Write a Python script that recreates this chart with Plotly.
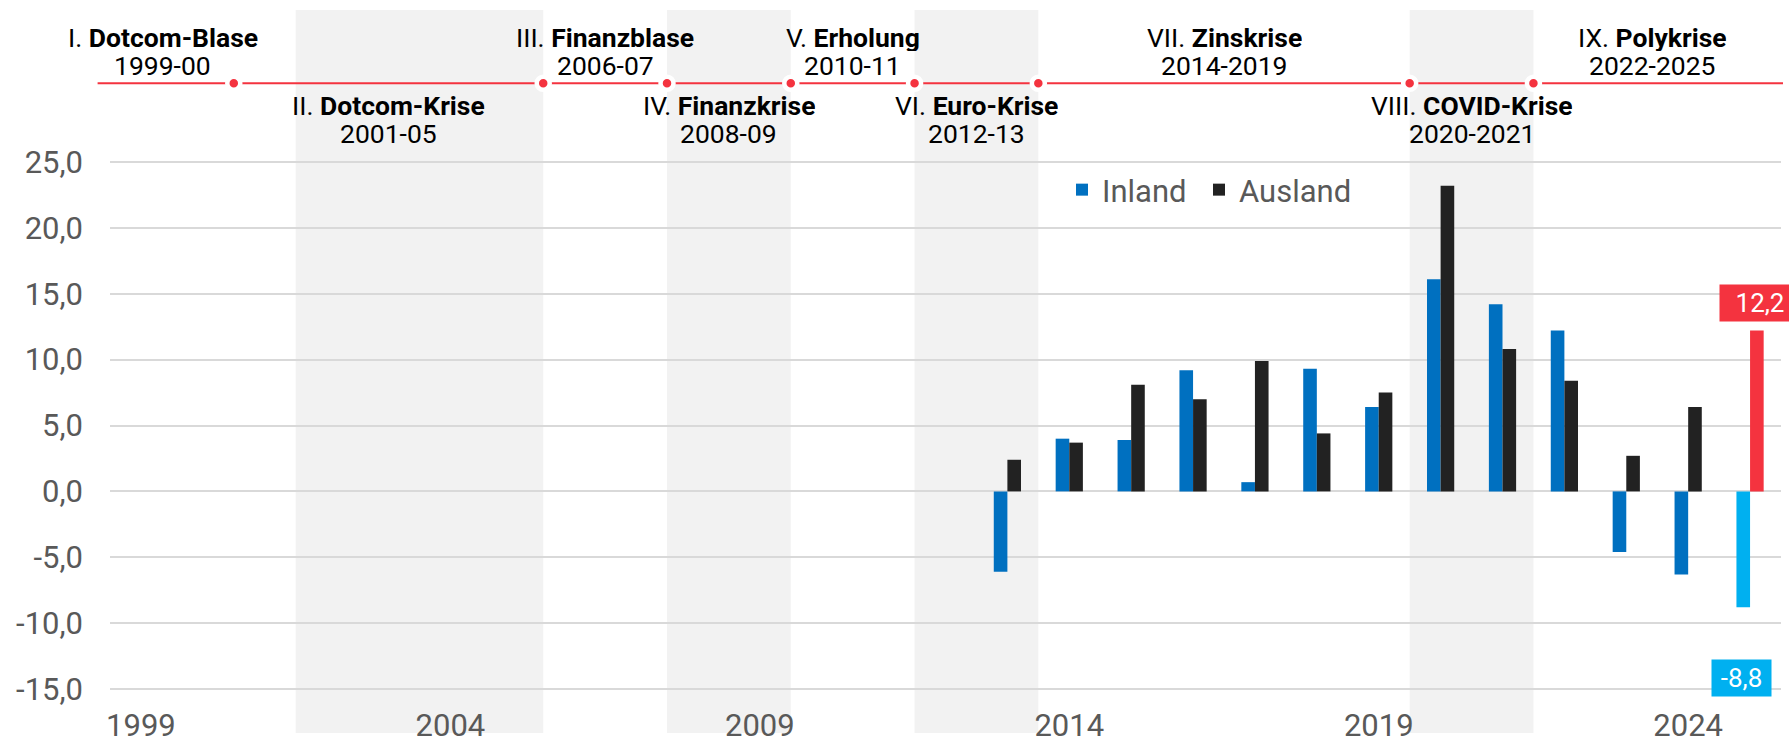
import plotly.graph_objects as go

# ---------------- data ----------------
years = list(range(2013, 2026))
inland = [-6.1, 4.0, 3.9, 9.2, 0.7, 9.3, 6.4, 16.1, 14.2, 12.2, -4.6, -6.3, -8.8]
ausland = [2.4, 3.7, 8.1, 7.0, 9.9, 4.4, 7.5, 23.2, 10.8, 8.4, 2.7, 6.4, 12.2]

period_roman = ["I.", "II.", "III.", "IV.", "V.", "VI.", "VII.", "VIII.", "IX."]
period_names = ["Dotcom-Blase", "Dotcom-Krise", "Finanzblase", "Finanzkrise", "Erholung",
                "Euro-Krise", "Zinskrise", "COVID-Krise", "Polykrise"]
period_labels = ["1999-00", "2001-05", "2006-07", "2008-09", "2010-11",
                 "2012-13", "2014-2019", "2020-2021", "2022-2025"]
period_start = [1999, 2001, 2006, 2008, 2010, 2012, 2014, 2020, 2022]
period_end = [2000, 2005, 2007, 2009, 2011, 2013, 2019, 2021, 2025]

shaded_start = [2002, 2008, 2012, 2020]
shaded_end = [2005, 2009, 2013, 2021]

x_ticks = [1999, 2004, 2009, 2014, 2019, 2024]
y_ticks = [-15, -10, -5, 0, 5, 10, 15, 20, 25]

# ---------------- styles ----------------
BLUE = "#0070C0"
LIGHT_BLUE = "#00B0F0"
DARK = "#222222"
RED = "#F4333F"
GRID = "#D9D9D9"
BAND = "#F2F2F2"
TXT = "#595959"

W, H = 1789, 743
ML, MR, MT, MB = 110, 8, 158, 50
PW, PH = W - ML - MR, H - MT - MB


def py(p):  # pixel row -> paper y
    return (H - MB - p) / PH


def px(p):  # pixel column -> paper x
    return (p - ML) / PW


fig = go.Figure()
last = years[-1]
fig.add_trace(go.Bar(
    x=years, y=inland, name="Inland", legend="legend",
    marker=dict(color=[LIGHT_BLUE if yr == last else BLUE for yr in years], line_width=0),
))
fig.add_trace(go.Bar(
    x=years, y=ausland, name="Ausland", legend="legend2",
    marker=dict(color=[RED if yr == last else DARK for yr in years], line_width=0),
))

# shaded crisis bands
for s, e in zip(shaded_start, shaded_end):
    fig.add_shape(type="rect", xref="x", yref="paper", x0=s - 0.5, x1=e + 0.5,
                  y0=py(733), y1=py(10), fillcolor=BAND, line_width=0, layer="below")

# timeline
ty = py(83.3)
fig.add_shape(type="line", xref="paper", yref="paper", x0=px(97.6), x1=px(1783),
              y0=ty, y1=ty, line=dict(color=RED, width=2), layer="above")
for e in period_end[:-1]:
    fig.add_shape(type="circle", xref="x", yref="paper", xsizemode="pixel", ysizemode="pixel",
                  xanchor=e + 0.5, yanchor=ty, x0=-6.5, x1=6.5, y0=-6.5, y1=6.5,
                  fillcolor=RED, line=dict(color="white", width=4.5), layer="above")

# period labels
for i in range(len(period_names)):
    above = i % 2 == 0
    xm = (period_start[i] + period_end[i]) / 2
    y1, y2 = (py(37.3), py(65.8)) if above else (py(106), py(133.3))
    xs = -9 if i == 0 else (-5 if i == len(period_names) - 1 else 0)
    fig.add_annotation(x=xm, y=y1, xref="x", yref="paper", xshift=xs,
                       text=f"{period_roman[i]} <b>{period_names[i]}</b>", showarrow=False,
                       height=27, borderpad=0,
                       font=dict(size=26.5, color="#000000", family="Roboto"), yanchor="middle")
    fig.add_annotation(x=xm, y=y2, xref="x", yref="paper", xshift=xs,
                       text=period_labels[i], showarrow=False,
                       height=27, borderpad=0,
                       font=dict(size=26.5, color="#000000", family="Roboto"), yanchor="middle")


def fmt(v):
    return f"{v:.1f}".replace(".", ",")


# value labels for the latest year
fig.add_annotation(x=last, y=ausland[-1], xref="x", yref="y", xshift=10, yshift=9,
                   yanchor="bottom", text=fmt(ausland[-1]), showarrow=False,
                   bgcolor=RED, width=78, height=34, borderpad=1,
                   font=dict(size=26, color="white", family="Roboto"))
fig.add_annotation(x=last, y=inland[-1], xref="x", yref="y", xshift=-9, yshift=-70.6,
                   yanchor="middle", text=fmt(inland[-1]), showarrow=False,
                   bgcolor=LIGHT_BLUE, width=57, height=34, borderpad=1,
                   font=dict(size=26, color="white", family="Roboto"))

legend_style = dict(orientation="h", xanchor="left", y=py(190), yanchor="middle",
                    font=dict(size=31, color=TXT, family="Roboto"), bgcolor="rgba(0,0,0,0)")

fig.update_layout(
    width=W, height=H, autosize=False,
    margin=dict(l=ML, r=MR, t=MT, b=MB, pad=0, autoexpand=False),
    paper_bgcolor="white", plot_bgcolor="rgba(0,0,0,0)",
    font=dict(family="Roboto", color=TXT),
    barmode="group", bargap=0.56, bargroupgap=0,
    showlegend=True,
    legend=dict(x=px(1062), **legend_style),
    legend2=dict(x=px(1199), **legend_style),
    xaxis=dict(range=[1998.5, 2025.5], tickvals=x_ticks, ticktext=[str(v) for v in x_ticks],
               showgrid=False, zeroline=False, showline=False, ticks="", automargin=False,
               tickfont=dict(size=31, color=TXT), ticklabelstandoff=11),
    yaxis=dict(range=[-15.3, 25.3], tickvals=y_ticks, ticktext=[fmt(v) for v in y_ticks],
               showgrid=True, gridcolor=GRID, gridwidth=1.5, zeroline=False, showline=False,
               ticks="", automargin=False,
               tickfont=dict(size=31, color=TXT), ticklabelstandoff=26),
)

fig.write_html("out.html", config={"displayModeBar": False},
               post_script="document.body.style.margin='0';document.body.style.overflow='hidden';")
